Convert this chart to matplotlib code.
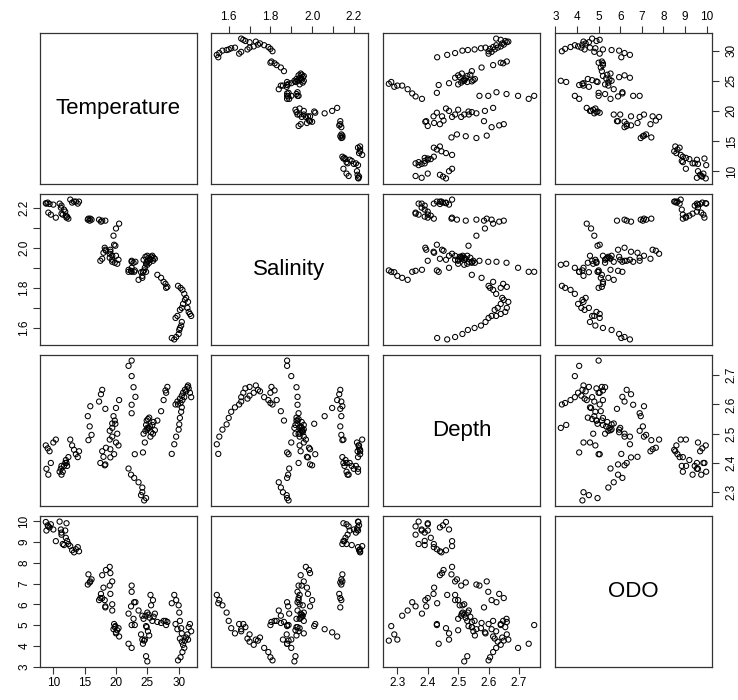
import numpy as np
import matplotlib.pyplot as plt

plt.rcParams['font.family'] = ['Liberation Sans', 'DejaVu Sans']

names = ['Temperature', 'Salinity', 'Depth', 'ODO']

# values, grouped by cluster (cold, mid, warm, hot)
temperature = [
    8.8, 8.9, 9.1, 9.2, 9.4, 9.6, 10.0, 10.4, 11.0, 11.2, 11.3, 11.3, 11.5,
    11.7, 11.9, 12.0, 12.1, 12.2, 12.4, 12.7, 13.0, 13.3, 13.6, 13.9, 14.1,
    15.6, 16.1, 15.8, 15.5, 15.9, 18.3, 17.3, 17.6, 17.8,
    20.5, 20.0, 19.6, 19.9,
    18.2, 18.3, 19.1, 18.0, 19.1, 18.4, 19.0, 19.4, 19.0, 19.4, 19.4, 19.8,
    20.2, 20.0, 19.7, 20.4, 17.5, 17.8,
    24.5, 24.8, 24.0, 24.2, 24.2, 23.6, 22.9, 22.4, 22.0, 23.0,
    22.5, 22.5, 23.1, 22.8, 22.5, 22.0, 22.5,
    24.4, 24.7, 25.0, 25.2, 25.4, 25.6, 25.8, 26.0, 26.2, 24.9, 25.1, 25.3,
    24.8, 25.0, 24.6, 24.3, 25.5, 25.9,
    26.6, 27.2, 27.6, 27.9, 28.2, 28.0,
    28.9, 29.3, 29.6, 30.0, 30.1, 30.2, 30.4, 30.5,
    29.5, 29.8, 30.2, 30.5, 30.7, 31.0, 31.2, 31.4, 31.6, 31.8, 32.0, 31.5,
    30.9, 30.6, 30.3, 29.9,
]
salinity = [
    2.222, 2.220, 2.225, 2.175, 2.218, 2.165, 2.215, 2.150, 2.220, 2.200,
    2.210, 2.170, 2.165, 2.190, 2.180, 2.160, 2.150, 2.155, 2.145, 2.240,
    2.225, 2.230, 2.230, 2.220, 2.230,
    2.145, 2.140, 2.135, 2.140, 2.145, 2.135, 2.140, 2.130, 2.135,
    2.120, 2.096, 2.060, 2.010,
    2.000, 1.990, 1.980, 1.975, 1.990, 1.985, 1.970, 1.960, 1.950, 1.940,
    1.930, 1.925, 1.920, 1.960, 2.015, 1.940, 1.935, 1.945,
    1.887, 1.880, 1.878, 1.860, 1.850, 1.840, 1.880, 1.885, 1.890, 1.887,
    1.935, 1.930, 1.930, 1.925, 1.900, 1.880, 1.880,
    1.940, 1.955, 1.960, 1.950, 1.945, 1.955, 1.960, 1.950, 1.945, 1.930,
    1.935, 1.925, 1.920, 1.915, 1.900, 1.880, 1.940, 1.935,
    1.865, 1.850, 1.830, 1.820, 1.805, 1.800,
    1.550, 1.543, 1.555, 1.570, 1.590, 1.600, 1.612, 1.630,
    1.650, 1.660, 1.690, 1.700, 1.720, 1.740, 1.750, 1.700, 1.680, 1.670,
    1.660, 1.730, 1.770, 1.790, 1.800, 1.810,
]
depth = [
    2.46, 2.38, 2.45, 2.36, 2.44, 2.40, 2.47, 2.48, 2.37, 2.38, 2.39, 2.36,
    2.37, 2.39, 2.40, 2.41, 2.40, 2.39, 2.42, 2.48, 2.46, 2.445, 2.43, 2.42,
    2.44,
    2.478, 2.496, 2.525, 2.560, 2.594, 2.585, 2.610, 2.635, 2.650,
    2.615, 2.588, 2.560, 2.534,
    2.392, 2.395, 2.419, 2.421, 2.447, 2.452, 2.480, 2.490, 2.510, 2.520,
    2.535, 2.545, 2.500, 2.470, 2.430, 2.460, 2.400, 2.440,
    2.272, 2.280, 2.290, 2.300, 2.316, 2.334, 2.349, 2.360, 2.381, 2.430,
    2.570, 2.599, 2.626, 2.659, 2.697, 2.732, 2.750,
    2.500, 2.510, 2.515, 2.520, 2.525, 2.505, 2.530, 2.540, 2.512, 2.545,
    2.550, 2.555, 2.530, 2.520, 2.470, 2.436, 2.490, 2.500,
    2.545, 2.577, 2.615, 2.648, 2.660, 2.640,
    2.431, 2.464, 2.490, 2.514, 2.532, 2.554, 2.575, 2.590,
    2.600, 2.610, 2.620, 2.630, 2.640, 2.650, 2.645, 2.660, 2.655, 2.640,
    2.625, 2.665, 2.625, 2.615, 2.605, 2.600,
]
odo = [
    9.96, 9.55, 9.80, 9.75, 9.70, 9.85, 9.60, 9.04, 9.98, 9.60, 9.45, 9.35,
    8.90, 8.85, 9.55, 9.20, 9.90, 9.05, 8.90, 8.80, 8.60, 8.50, 8.65, 8.75,
    8.55,
    7.44, 7.20, 7.05, 6.95, 7.10, 5.85, 6.20, 6.50, 6.30,
    4.45, 4.65, 4.80, 4.95,
    6.20, 5.90, 6.50, 6.80, 7.50, 7.65, 7.80, 7.10, 6.90, 6.00, 5.70, 4.90,
    4.75, 4.60, 5.05, 4.85, 6.30, 7.40,
    4.25, 4.95, 4.55, 4.30, 5.45, 5.70, 6.10, 5.90, 5.55, 5.00,
    6.90, 6.60, 6.10, 5.30, 3.90, 4.10, 5.00,
    5.30, 5.45, 5.60, 5.50, 5.35, 5.95, 5.20, 5.40, 5.55, 4.90, 4.70, 4.50,
    3.50, 3.25, 4.30, 4.10, 6.45, 6.20,
    5.15, 5.10, 5.20, 5.20, 5.15, 5.00,
    6.05, 6.45, 6.20, 5.95, 5.60, 5.20, 4.85, 4.60,
    5.05, 4.80, 4.35, 4.20, 4.05, 4.25, 4.40, 4.55, 4.90, 5.05, 4.70, 4.30,
    3.90, 3.70, 3.45, 3.30,
]

tick_pos = [
    [10, 15, 20, 25, 30],
    [1.6, 1.7, 1.8, 1.9, 2.0, 2.1, 2.2],
    [2.3, 2.4, 2.5, 2.6, 2.7],
    [3, 4, 5, 6, 7, 8, 9, 10],
]
tick_lab = [
    ['10', '15', '20', '25', '30'],
    ['1.6', '', '1.8', '', '2.0', '', '2.2'],
    ['2.3', '2.4', '2.5', '2.6', '2.7'],
    ['3', '4', '5', '6', '7', '8', '9', '10'],
]

data = [np.array(temperature), np.array(salinity), np.array(depth), np.array(odo)]
lims = []
for v in data:
    r = v.max() - v.min()
    lims.append((v.min() - 0.04 * r, v.max() + 0.04 * r))

W, H = 738, 700
lefts = [40, 211, 383, 555]
tops = [33, 194, 355, 516]
pw, ph = 157, 151

fig = plt.figure(figsize=(W / 100, H / 100), dpi=100)

for i in range(4):
    for j in range(4):
        ax = fig.add_axes([lefts[j] / W, (H - tops[i] - ph) / H, pw / W, ph / H])
        ax.set_xlim(lims[j])
        ax.set_ylim(lims[i])
        if i == j:
            ax.text(0.5, 0.5, names[i], transform=ax.transAxes,
                    ha='center', va='center', fontsize=16)
        else:
            ax.scatter(data[j], data[i], s=14, facecolors='none',
                       edgecolors='black', linewidths=0.75)
        for sp in ax.spines.values():
            sp.set_linewidth(0.9)
            sp.set_color('#333333')

        ax.set_xticks([])
        ax.set_yticks([])
        ax.tick_params(direction='out', length=5, width=0.8, labelsize=8.5,
                       pad=2, color='#333333')
        # x axis on top (row 0, cols 1 & 3) or bottom (row 3, cols 0 & 2)
        if i == 0 and j % 2 == 1:
            ax.set_xticks(tick_pos[j])
            ax.set_xticklabels(tick_lab[j])
            ax.tick_params(axis='x', top=True, bottom=False, labeltop=True,
                           labelbottom=False)
        elif i == 3 and j % 2 == 0:
            ax.set_xticks(tick_pos[j])
            ax.set_xticklabels(tick_lab[j])
        # y axis on left (col 0, rows 1 & 3) or right (col 3, rows 0 & 2)
        if j == 0 and i % 2 == 1:
            ax.set_yticks(tick_pos[i])
            ax.set_yticklabels(tick_lab[i], rotation=90, va='center')
        elif j == 3 and i % 2 == 0:
            ax.set_yticks(tick_pos[i])
            ax.set_yticklabels(tick_lab[i], rotation=90, va='center')
            ax.tick_params(axis='y', right=True, left=False, labelright=True,
                           labelleft=False, pad=5)

fig.savefig('out.png', dpi=100)
